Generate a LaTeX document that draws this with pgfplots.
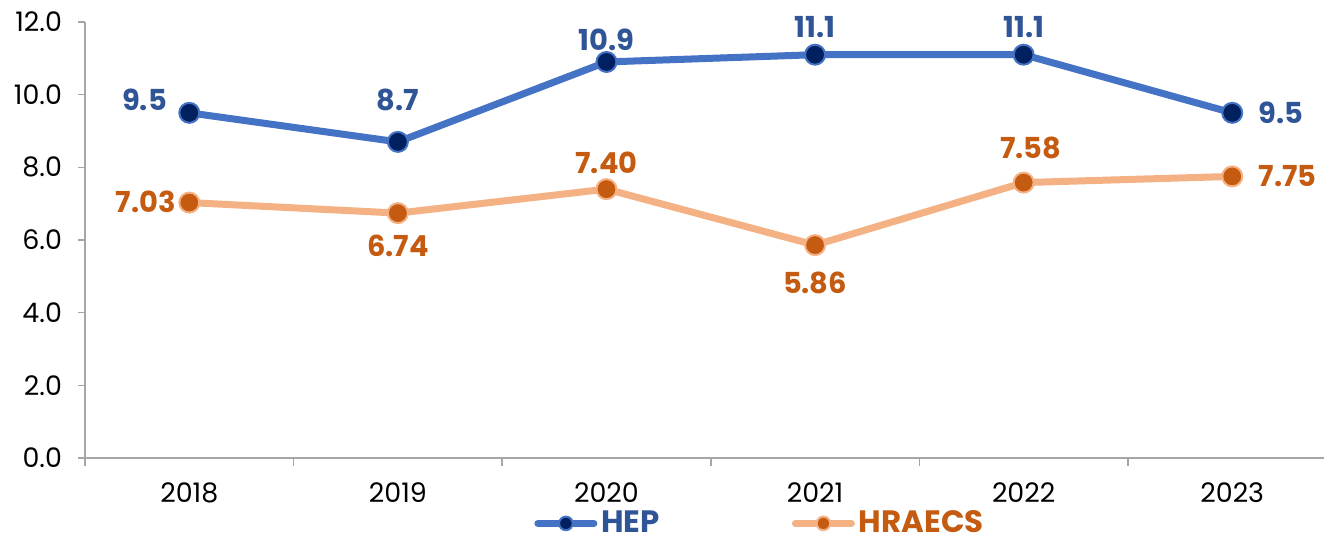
\documentclass[border=0pt]{standalone}
\usepackage{fontspec}
\setmainfont{Poppins}
\usepackage{pgfplots}
\pgfplotsset{compat=1.18}
\definecolor{hepline}{HTML}{4472C4}
\definecolor{hepmark}{HTML}{002060}
\definecolor{heplab}{HTML}{2F5597}
\definecolor{hrline}{HTML}{F4B183}
\definecolor{hrmark}{HTML}{C55A11}
\definecolor{axgray}{HTML}{A6A6A6}

\pgfplotsset{
  hepstyle/.style={draw=hepline, line width=3.5bp, line join=round, line cap=round,
    mark=*, mark size=5bp, mark options={fill=hepmark, draw=hepline, line width=1bp}},
  hrstyle/.style={draw=hrline, line width=3.5bp, line join=round, line cap=round,
    mark=*, mark size=5bp, mark options={fill=hrmark, draw=hrline, line width=1bp}},
}
% label: color, x, y, anchor, dx, dy
\newcommand{\lab}[6]{%
  \addplot[draw=none, mark=none, forget plot, point meta=explicit symbolic,
    nodes near coords={\pgfplotspointmeta},
    nodes near coords style={anchor=#4, xshift=#5bp, yshift=#6bp, inner sep=0pt,
      font=\fontsize{14.5}{14.5}\selectfont\bfseries, text=#1}]
    coordinates {(#2,#3) [#3]};}

\begin{document}
\begin{tikzpicture}
\useasboundingbox (-42.5bp,-41bp) rectangle (619.5bp,229bp);
\begin{axis}[
  scale only axis,
  width=619.5bp, height=218bp,
  xmin=-0.5, xmax=5.44,
  ymin=0, ymax=12,
  clip=false,
  axis x line=bottom, axis y line=left,
  axis line style={-, draw=axgray, line width=0.75bp},
  tick style={draw=axgray, line width=0.75bp},
  tick align=outside,
  xtick={0,...,5},
  xticklabels={2018,2019,2020,2021,2022,2023},
  major x tick style={draw=none},
  minor xtick={-0.5,0.5,1.5,2.5,3.5,4.5},
  minor tick length=4bp,
  major tick length=3.5bp,
  ytick={0,2,...,12},
  yticklabel style={xshift=-4.5bp, /pgf/number format/.cd, fixed, fixed zerofill, precision=1},
  /pgf/number format/assume math mode=true,
  ticklabel style={font=\fontsize{13.5}{13.5}\selectfont, text=black},
  xticklabel style={yshift=-5.5bp},
  legend style={draw=none, at={(0.5456,-0.150)}, anchor=center,
    legend columns=2, font=\fontsize{15.5}{15.5}\selectfont\bfseries,
    /tikz/every even column/.append style={column sep=64bp},
    inner sep=0pt},
  legend image code/.code={%
    \draw[mark repeat=2,mark phase=2,#1, mark size=3.4bp] plot coordinates {(0bp,0bp)(14bp,0bp)(28bp,0bp)};},
]
\addplot[hepstyle] coordinates {(0,9.5) (1,8.7) (2,10.9) (3,11.1) (4,11.1) (5,9.5)};
\addlegendentry{\textcolor{heplab}{HEP}}
\addplot[hrstyle] coordinates {(0,7.03) (1,6.74) (2,7.40) (3,5.86) (4,7.58) (5,7.75)};
\addlegendentry{\textcolor{hrmark}{HRAECS}}
\lab{heplab}{0}{9.5}{east}{-11}{6.75}
\lab{heplab}{1}{8.7}{center}{0}{21}
\lab{heplab}{2}{10.9}{center}{0}{11}
\lab{heplab}{3}{11.1}{center}{0}{14}
\lab{heplab}{4}{11.1}{center}{0}{14}
\lab{heplab}{5}{9.5}{west}{13}{0}
\lab{hrmark}{0}{7.03}{east}{-6.5}{0.5}
\lab{hrmark}{1}{6.74}{center}{0}{-16.5}
\lab{hrmark}{2}{7.40}{center}{0}{13}
\lab{hrmark}{3}{5.86}{center}{0}{-19}
\lab{hrmark}{4}{7.58}{center}{3.5}{17.5}
\lab{hrmark}{5}{7.75}{west}{13}{0}
\end{axis}
\end{tikzpicture}
\end{document}
